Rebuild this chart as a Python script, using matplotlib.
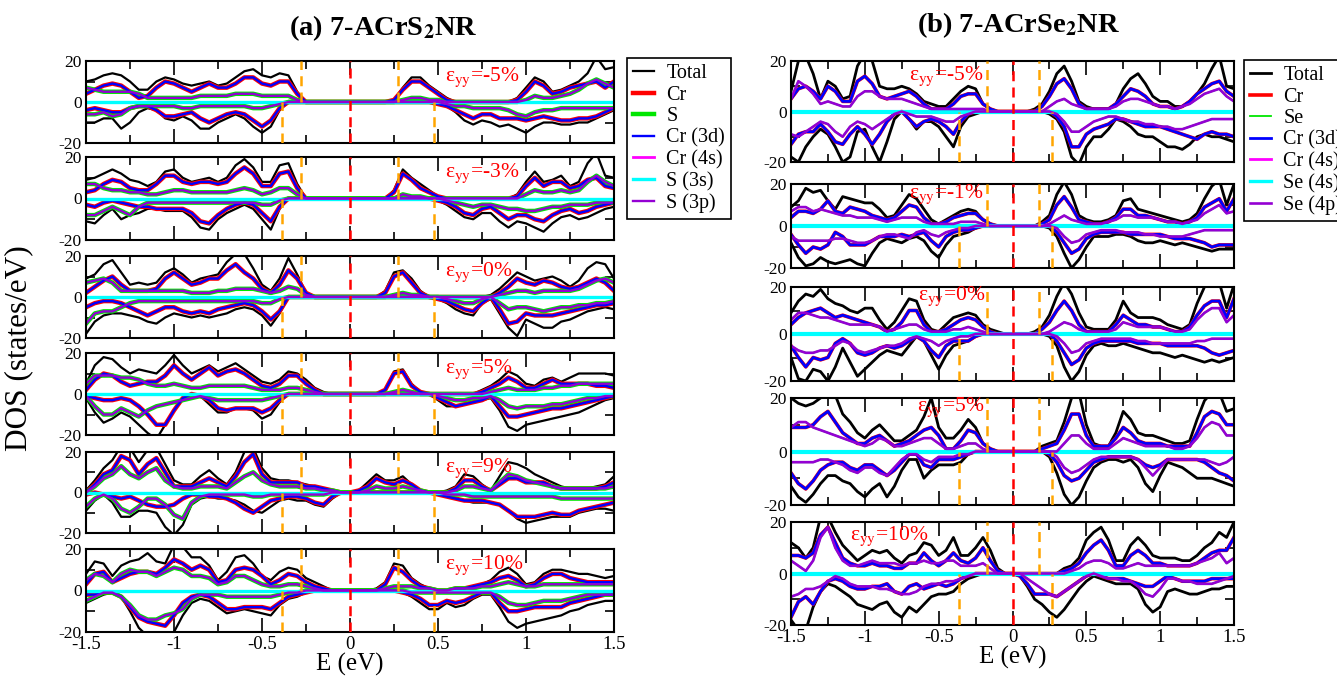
import numpy as np
import matplotlib
matplotlib.use("Agg")
import matplotlib.pyplot as plt
from matplotlib.lines import Line2D
from matplotlib.ticker import MultipleLocator, FuncFormatter

plt.rcParams['font.family'] = ['Liberation Serif', 'DejaVu Serif']
plt.rcParams['mathtext.fontset'] = 'stix'
plt.rcParams['axes.unicode_minus'] = False

W, H = 1337, 679

# energy grid (eV) the DOS was read on
energy = np.linspace(-1.5, 1.5, 61)
flat_zero = np.zeros_like(energy)   # Cr(4s) and S/Se(3s,4s) stay ~0 on this scale

# ---------------- (a) 7-ACrS2NR ----------------
a_strain = ["-5%", "-3%", "0%", "5%", "9%", "10%"]
a_edges = (-0.28, 0.27, -0.385, 0.48)   # spin-up VBM, CBM ; spin-down VBM, CBM

a_m5_tot_up = [10, 11, 13, 14, 13, 10, 6, 6, 10, 12, 11, 9, 8, 9, 10, 8, 9, 12, 15, 16,
               13, 12, 14, 13, 5, 0, 0, 0, 0, 0, 0, 0, 0, 0, 0, 1, 7, 12, 12, 8,
               5, 2, 0, 0, 0, 0, 0, 0, 0, 2, 7, 12, 10, 5, 6, 8, 10, 14, 22, 16, 17]
a_m5_tot_dn = [-10, -10, -8, -8, -13, -10, -5, -3, -4, -8, -9, -7, -9, -13, -13, -10, -8, -6, -8, -12,
               -15, -12, -4, 0, 0, 0, 0, 0, 0, 0, 0, 0, 0, 0, 0, 0, 0, 0, 0, 0,
               -1, -2, -5, -9, -11, -9, -10, -12, -11, -13, -15, -12, -10, -10, -11, -11, -10, -10, -8, -6, -4]
a_m5_cr_up = [4, 6, 8, 9, 8, 5, 2, 3, 7, 10, 9, 7, 5, 7, 9, 7, 7, 9, 12, 12,
              9, 8, 10, 10, 4, 0, 0, 0, 0, 0, 0, 0, 0, 0, 0, 1, 6, 10, 10, 7,
              4, 1, 0, 0, 0, 0, 0, 0, 0, 1, 5, 10, 8, 4, 5, 7, 8, 9, 10, 7, 10]
a_m5_cr_dn = [-4, -3, -4, -5, -5, -3, -2, -2, -4, -7, -7, -6, -5, -8, -10, -8, -6, -5, -6, -9,
              -12, -9, -3, 0, 0, 0, 0, 0, 0, 0, 0, 0, 0, 0, 0, 0, 0, 0, 0, 0,
              -1, -2, -4, -6, -8, -6, -6, -8, -8, -8, -9, -8, -7, -8, -9, -9, -8, -8, -7, -5, -3]
a_m5_s_up = [7, 6, 5, 5, 5, 5, 4, 2, 2, 2, 2, 2, 2, 3, 3, 3, 3, 4, 4, 4,
             3, 3, 3, 3, 1, 0, 0, 0, 0, 0, 0, 0, 0, 0, 0, 0, 1, 2, 2, 1,
             1, 0, 0, 0, 0, 0, 0, 0, 0, 0, 1, 3, 2, 2, 3, 4, 6, 9, 11, 9, 7]
a_m5_s_dn = [-6, -6, -5, -7, -6, -3, -2, -2, -2, -2, -2, -3, -3, -2, -2, -2, -2, -2, -2, -3,
             -3, -2, -1, 0, 0, 0, 0, 0, 0, 0, 0, 0, 0, 0, 0, 0, 0, 0, 0, 0,
             0, -1, -2, -2, -3, -3, -3, -3, -4, -6, -7, -5, -4, -4, -3, -3, -3, -3, -3, -3, -3]

a_m3_tot_up = [9, 10, 12, 14, 12, 9, 8, 6, 8, 13, 14, 10, 8, 9, 10, 8, 10, 16, 19, 15,
               8, 8, 16, 17, 7, 0, 0, 0, 0, 0, 0, 0, 0, 0, 0, 4, 14, 10, 7, 4,
               1, 0, 0, 0, 0, 0, 0, 0, 0, 2, 8, 13, 8, 9, 11, 6, 8, 17, 22, 11, 10]
a_m3_tot_dn = [-11, -12, -8, -5, -10, -8, -7, -5, -5, -6, -6, -6, -9, -14, -15, -10, -7, -5, -3, -5,
               -10, -15, -5, 0, 0, 0, 0, 0, 0, 0, 0, 0, 0, 0, 0, 0, 0, 0, 0, 0,
               -1, -3, -6, -9, -10, -7, -7, -11, -14, -11, -12, -14, -16, -12, -9, -8, -10, -9, -7, -5, -4]
a_m3_cr_up = [3, 4, 7, 9, 8, 5, 4, 4, 7, 11, 11, 8, 7, 8, 8, 7, 8, 12, 15, 12,
              6, 6, 12, 13, 5, 0, 0, 0, 0, 0, 0, 0, 0, 0, 0, 3, 12, 9, 5, 3,
              1, 0, 0, 0, 0, 0, 0, 0, 0, 1, 6, 10, 6, 8, 8, 5, 6, 9, 10, 6, 5]
a_m3_cr_dn = [-3, -4, -2, -1, -2, -3, -4, -4, -5, -5, -5, -5, -7, -11, -12, -8, -5, -3, -2, -3,
              -7, -11, -4, 0, 0, 0, 0, 0, 0, 0, 0, 0, 0, 0, 0, 0, 0, 0, 0, 0,
              -1, -2, -4, -7, -8, -5, -4, -7, -10, -8, -8, -10, -11, -8, -6, -5, -7, -6, -4, -3, -2]
a_m3_s_up = [7, 7, 5, 4, 4, 3, 3, 2, 2, 3, 4, 4, 3, 3, 3, 3, 3, 4, 5, 4,
             2, 3, 5, 5, 2, 0, 0, 0, 0, 0, 0, 0, 0, 0, 0, 0, 2, 1, 1, 0,
             0, 0, 0, 0, 0, 0, 0, 0, 0, 0, 2, 4, 3, 3, 4, 3, 4, 8, 11, 8, 6]
a_m3_s_dn = [-8, -8, -6, -4, -6, -8, -4, -2, -2, -2, -2, -2, -2, -2, -2, -2, -2, -2, -2, -2,
             -3, -3, -1, 0, 0, 0, 0, 0, 0, 0, 0, 0, 0, 0, 0, 0, 0, 0, 0, 0,
             0, -1, -2, -3, -4, -3, -3, -4, -5, -5, -6, -6, -5, -4, -4, -3, -3, -3, -2, -2, -2]

a_0_tot_up = [9, 11, 16, 18, 12, 6, 7, 6, 7, 12, 14, 11, 7, 9, 10, 11, 17, 21, 21, 14,
              6, 3, 9, 19, 11, 2, 0, 0, 0, 0, 0, 0, 0, 0, 3, 12, 13, 9, 3, 0,
              0, 0, 0, 0, 0, 0, 1, 4, 8, 12, 10, 8, 9, 10, 8, 5, 8, 14, 17, 16, 9]
a_0_tot_dn = [-18, -12, -9, -8, -8, -9, -10, -12, -13, -10, -8, -9, -10, -9, -10, -9, -8, -6, -5, -6,
              -9, -14, -8, 0, 0, 0, 0, 0, 0, 0, 0, 0, 0, 0, 0, 0, 0, 0, 0, 0,
              -1, -3, -6, -8, -9, -3, -1, -8, -15, -19, -11, -13, -15, -15, -12, -11, -9, -7, -6, -5, -6]
a_0_cr_up = [2, 5, 8, 10, 6, 3, 3, 3, 4, 9, 12, 9, 6, 7, 9, 9, 13, 16, 12, 9,
             4, 2, 6, 13, 9, 2, 0, 0, 0, 0, 0, 0, 0, 0, 2, 10, 12, 7, 2, 0,
             0, 0, 0, 0, 0, 0, 0, 2, 5, 9, 7, 6, 8, 7, 5, 4, 5, 7, 9, 7, 3]
a_0_cr_dn = [-5, -3, -2, -2, -3, -5, -7, -9, -7, -5, -5, -7, -8, -7, -8, -6, -5, -4, -3, -4,
             -7, -11, -7, 0, 0, 0, 0, 0, 0, 0, 0, 0, 0, 0, 0, 0, 0, 0, 0, 0,
             -1, -2, -4, -6, -7, -3, 0, -6, -13, -12, -8, -9, -9, -9, -8, -7, -6, -5, -4, -4, -3]
a_0_s_up = [7, 8, 9, 7, 3, 3, 3, 3, 3, 3, 3, 3, 2, 2, 2, 3, 3, 4, 4, 4,
            3, 2, 3, 5, 4, 1, 0, 0, 0, 0, 0, 0, 0, 0, 0, 1, 2, 1, 1, 0,
            0, 0, 0, 0, 0, 0, 0, 1, 2, 3, 3, 2, 3, 3, 3, 3, 4, 6, 8, 9, 7]
a_0_s_dn = [-13, -8, -7, -7, -5, -3, -2, -2, -2, -2, -2, -2, -2, -2, -2, -2, -2, -2, -2, -2,
            -3, -3, -1, 0, 0, 0, 0, 0, 0, 0, 0, 0, 0, 0, 0, 0, 0, 0, 0, 0,
            0, -1, -2, -3, -3, -1, 0, -3, -6, -5, -5, -6, -7, -6, -5, -5, -4, -4, -3, -3, -2]

a_5_tot_up = [5, 14, 18, 17, 13, 10, 12, 11, 10, 14, 19, 14, 10, 12, 14, 11, 13, 15, 12, 9,
              6, 5, 7, 11, 10, 7, 3, 1, 0, 0, 0, 0, 0, 0, 2, 11, 12, 5, 1, 0,
              0, 0, 0, 0, 0, 2, 4, 7, 11, 9, 5, 4, 7, 8, 6, 8, 10, 10, 10, 10, 9]
a_5_tot_dn = [-2, -9, -14, -12, -9, -11, -15, -19, -22, -15, -8, -2, 0, -1, -5, -9, -9, -7, -7, -8,
              -12, -10, -4, 0, 0, 0, 0, 0, 0, 0, 0, 0, 0, 0, 0, 0, 0, 0, 0, 0,
              -3, -6, -6, -5, -4, -3, -2, -8, -16, -18, -15, -14, -13, -12, -11, -10, -9, -7, -5, -3, -2]
a_5_cr_up = [2, 7, 10, 9, 6, 4, 5, 6, 6, 9, 14, 10, 7, 10, 13, 9, 11, 12, 10, 7,
             4, 3, 5, 9, 9, 5, 2, 0, 0, 0, 0, 0, 0, 0, 2, 10, 11, 4, 1, 0,
             0, 0, 0, 0, 0, 1, 3, 5, 8, 6, 3, 3, 5, 7, 5, 5, 5, 5, 4, 4, 3]
a_5_cr_dn = [-1, -2, -3, -3, -2, -3, -6, -10, -15, -15, -8, -2, 0, -1, -3, -7, -8, -7, -7, -7,
             -9, -7, -3, 0, 0, 0, 0, 0, 0, 0, 0, 0, 0, 0, 0, 0, 0, 0, 0, 0,
             -2, -4, -6, -5, -4, -3, -1, -6, -11, -11, -10, -9, -8, -7, -7, -6, -5, -4, -3, -2, -1]
a_5_s_up = [5, 9, 9, 9, 8, 8, 7, 5, 4, 4, 5, 4, 3, 3, 4, 4, 4, 4, 4, 3,
            2, 2, 2, 3, 3, 2, 1, 0, 0, 0, 0, 0, 0, 0, 0, 1, 2, 1, 0, 0,
            0, 0, 0, 0, 0, 0, 1, 2, 3, 2, 2, 2, 3, 3, 4, 4, 5, 5, 5, 5, 5]
a_5_s_dn = [-1, -6, -10, -10, -7, -9, -11, -8, -6, -5, -4, -3, -2, -1, -2, -3, -3, -3, -3, -3,
            -3, -2, -1, 0, 0, 0, 0, 0, 0, 0, 0, 0, 0, 0, 0, 0, 0, 0, 0, 0,
            -1, -2, -3, -3, -2, -2, -1, -3, -6, -7, -6, -6, -6, -5, -5, -4, -3, -2, -2, -1, -1]

a_9_tot_up = [1, 6, 12, 16, 23, 22, 15, 21, 22, 14, 6, 4, 4, 8, 11, 7, 4, 10, 20, 22,
              12, 7, 6, 6, 5, 4, 3, 2, 1, 0, 0, 1, 5, 9, 6, 6, 8, 4, 1, 0,
              0, 1, 3, 9, 8, 4, 1, 8, 15, 14, 12, 9, 7, 5, 3, 2, 2, 2, 3, 4, 8]
a_9_tot_dn = [-9, -4, -1, -5, -12, -12, -9, -9, -10, -17, -21, -16, -6, -3, -2, -3, -3, -4, -6, -9,
              -10, -7, -4, -3, -4, -4, -6, -7, -3, 0, 0, 0, 0, 0, 0, 0, 0, 0, 0, 0,
              -1, -2, -3, -4, -5, -5, -5, -6, -9, -13, -15, -14, -13, -12, -12, -12, -10, -9, -8, -8, -9]
a_9_cr_up = [0, 4, 9, 11, 18, 16, 9, 14, 17, 10, 3, 3, 3, 5, 7, 5, 3, 8, 15, 19,
             9, 5, 5, 5, 5, 3, 3, 2, 1, 0, 0, 1, 3, 7, 5, 4, 6, 4, 1, 0,
             0, 0, 2, 6, 6, 3, 1, 4, 7, 7, 5, 5, 5, 3, 2, 2, 2, 2, 2, 3, 5]
a_9_cr_dn = [-1, 0, -1, -2, -3, -2, -4, -6, -7, -7, -6, -3, -1, -1, -2, -2, -3, -5, -8, -10,
             -7, -4, -3, -2, -2, -3, -5, -6, -2, 0, 0, 0, 0, 0, 0, 0, 0, 0, 0, 0,
             -1, -2, -3, -4, -4, -4, -5, -6, -9, -12, -12, -12, -11, -10, -11, -11, -9, -8, -7, -6, -5]
a_9_s_up = [0, 3, 7, 9, 13, 9, 7, 10, 12, 6, 3, 2, 2, 3, 3, 3, 2, 5, 8, 10,
            6, 4, 3, 3, 3, 2, 2, 1, 1, 0, 0, 0, 1, 3, 2, 2, 3, 2, 1, 0,
            0, 0, 1, 3, 3, 2, 1, 5, 9, 8, 6, 5, 4, 3, 2, 2, 2, 2, 2, 2, 3]
a_9_s_dn = [-7, -3, -1, -3, -8, -10, -7, -3, -3, -6, -11, -13, -5, -2, -1, -1, -1, -1, -1, -2,
            -2, -1, -1, -1, -1, -1, -1, -1, 0, 0, 0, 0, 0, 0, 0, 0, 0, 0, 0, 0,
            0, -1, -1, -1, -2, -2, -2, -2, -2, -2, -2, -2, -2, -2, -3, -3, -3, -3, -3, -3, -3]

a_10_tot_up = [8, 14, 13, 7, 12, 14, 15, 18, 14, 13, 22, 21, 16, 16, 12, 5, 9, 16, 17, 13,
               7, 5, 9, 11, 10, 6, 4, 2, 0, 0, 0, 0, 0, 1, 4, 13, 12, 6, 3, 1,
               0, 0, 0, 1, 2, 3, 5, 9, 11, 8, 3, 4, 8, 10, 10, 9, 8, 8, 7, 6, 7]
a_10_tot_dn = [-6, -4, -2, -1, -3, -10, -18, -22, -22, -22, -20, -12, -6, -4, -5, -8, -11, -10, -9, -10,
               -11, -12, -7, -4, -3, -1, 0, 0, 0, 0, 0, 0, 0, 0, 0, 0, -1, -3, -6, -9,
               -9, -6, -8, -7, -4, -2, -2, -8, -15, -18, -16, -15, -14, -13, -12, -10, -9, -7, -6, -5, -5]
a_10_cr_up = [3, 8, 9, 4, 6, 8, 9, 9, 8, 11, 15, 13, 10, 12, 10, 4, 5, 10, 11, 10,
              7, 3, 5, 8, 7, 4, 2, 1, 0, 0, 0, 0, 0, 0, 3, 11, 9, 5, 2, 1,
              0, 0, 1, 1, 2, 3, 4, 6, 7, 5, 2, 3, 6, 8, 8, 6, 5, 4, 4, 4, 4]
a_10_cr_dn = [-2, -2, -1, -1, -3, -8, -13, -15, -16, -17, -12, -6, -3, -2, -3, -6, -9, -9, -8, -8,
              -8, -9, -6, -3, -2, -1, 0, 0, 0, 0, 0, 0, 0, 0, 0, 0, -1, -2, -4, -7,
              -7, -5, -6, -5, -3, -1, -1, -6, -10, -10, -9, -8, -8, -8, -8, -6, -5, -4, -3, -2, -2]
a_10_s_up = [5, 8, 7, 4, 8, 10, 9, 9, 7, 9, 11, 10, 7, 7, 6, 3, 4, 7, 7, 5,
             3, 2, 2, 3, 3, 2, 1, 0, 0, 0, 0, 0, 0, 0, 1, 2, 2, 2, 1, 1,
             0, 0, 1, 1, 1, 2, 2, 3, 4, 3, 2, 2, 3, 3, 3, 3, 3, 3, 3, 3, 3]
a_10_s_dn = [-5, -3, -1, -1, -3, -7, -12, -14, -14, -12, -11, -9, -4, -2, -2, -2, -3, -3, -3, -3,
             -3, -3, -2, -1, -1, 0, 0, 0, 0, 0, 0, 0, 0, 0, 0, 0, 0, -1, -1, -1,
             -1, -1, -1, -1, -1, -1, -1, -3, -6, -7, -7, -6, -5, -5, -5, -4, -3, -2, -2, -2, -2]

# ---------------- (b) 7-ACrSe2NR ----------------
b_strain = ["-5%", "-1%", "0%", "5%", "10%"]
b_edges = (-0.175, 0.18, -0.36, 0.265)

b_m5_tot_up = [8, 20, 22, 15, 5, 12, 10, 5, 6, 18, 23, 20, 10, 9, 9, 10, 9, 7, 4, 3,
               2, 2, 5, 8, 10, 9, 3, 1, 0, 0, 0, 0, 0, 1, 3, 8, 15, 18, 12, 4,
               2, 1, 1, 1, 3, 9, 13, 15, 11, 6, 4, 4, 2, 2, 4, 7, 11, 17, 22, 10, 9]
b_m5_tot_dn = [-18, -20, -14, -10, -7, -9, -14, -20, -18, -8, -7, -14, -20, -12, -3, 0, -3, -7, -4, -4,
               -6, -10, -14, -6, -2, -1, 0, 0, 0, 0, 0, 0, 0, 0, 0, -1, -3, -8, -18, -21,
               -14, -10, -10, -7, -3, -4, -6, -9, -10, -10, -12, -14, -14, -15, -13, -10, -9, -10, -10, -11, -12]
b_m5_cr_up = [5, 9, 10, 8, 5, 10, 8, 4, 4, 12, 14, 11, 6, 5, 6, 7, 8, 6, 3, 1,
              1, 1, 3, 6, 7, 7, 3, 1, 0, 0, 0, 0, 0, 0, 2, 6, 11, 13, 9, 3,
              1, 1, 1, 1, 3, 6, 9, 8, 6, 3, 2, 2, 1, 2, 4, 7, 9, 11, 12, 8, 6]
b_m5_cr_dn = [-13, -9, -8, -8, -5, -8, -12, -13, -9, -6, -9, -13, -9, -4, -1, 0, -3, -6, -4, -3,
              -4, -6, -9, -4, -1, 0, 0, 0, 0, 0, 0, 0, 0, 0, 0, 0, -2, -6, -14, -14,
              -9, -7, -6, -5, -3, -3, -4, -5, -6, -6, -6, -7, -8, -9, -10, -11, -9, -8, -9, -9, -10]
b_m5_s_up = [5, 12, 10, 7, 3, 4, 3, 2, 2, 6, 8, 8, 6, 5, 5, 5, 4, 3, 2, 1,
             1, 1, 1, 1, 1, 1, 1, 0, 0, 0, 0, 0, 0, 0, 0, 2, 4, 5, 3, 2,
             1, 1, 1, 1, 2, 4, 5, 5, 4, 3, 2, 2, 1, 2, 3, 5, 7, 8, 9, 6, 4]
b_m5_s_dn = [-9, -10, -8, -6, -4, -5, -8, -10, -6, -4, -5, -7, -5, -3, -1, 0, -1, -2, -2, -2,
             -3, -4, -4, -2, -1, 0, 0, 0, 0, 0, 0, 0, 0, 0, 0, 0, -1, -4, -8, -8,
             -6, -4, -3, -2, -2, -3, -4, -4, -5, -5, -6, -6, -7, -7, -6, -5, -4, -3, -3, -3, -3]

b_m1_tot_up = [9, 12, 18, 16, 17, 12, 8, 14, 13, 12, 11, 11, 8, 4, 5, 10, 15, 13, 8, 3,
               1, 3, 5, 7, 8, 7, 3, 1, 0, 0, 0, 0, 0, 0, 2, 5, 15, 21, 15, 5,
               3, 2, 2, 3, 5, 12, 13, 8, 7, 6, 5, 4, 3, 2, 3, 6, 13, 19, 22, 10, 20]
b_m1_tot_dn = [-8, -15, -19, -18, -15, -17, -18, -17, -16, -18, -19, -13, -8, -6, -7, -8, -6, -5, -7, -12,
               -15, -9, -5, -4, -3, -1, 0, 0, 0, 0, 0, 0, 0, 0, 0, -1, -5, -13, -20, -16,
               -10, -5, -5, -5, -4, -4, -5, -7, -8, -8, -7, -8, -9, -8, -9, -10, -11, -12, -11, -11, -11]
b_m1_cr_up = [4, 7, 7, 6, 8, 12, 7, 6, 9, 8, 7, 5, 4, 3, 4, 7, 10, 9, 4, 1,
              1, 2, 4, 5, 6, 6, 3, 1, 0, 0, 0, 0, 0, 0, 1, 3, 10, 14, 9, 3,
              2, 1, 1, 2, 4, 8, 8, 5, 5, 4, 3, 2, 2, 1, 2, 4, 9, 11, 13, 7, 13]
b_m1_cr_dn = [-4, -9, -13, -10, -11, -9, -3, -5, -9, -9, -9, -7, -5, -5, -5, -4, -5, -4, -3, -7,
              -10, -5, -3, -2, -2, -1, 0, 0, 0, 0, 0, 0, 0, 0, 0, 0, -3, -8, -13, -11,
              -6, -4, -3, -3, -3, -3, -4, -4, -4, -4, -4, -5, -6, -6, -6, -7, -8, -10, -9, -9, -9]
b_m1_s_up = [7, 9, 9, 7, 8, 7, 6, 5, 5, 4, 4, 4, 3, 2, 3, 4, 4, 4, 2, 1,
             1, 1, 1, 2, 2, 2, 1, 0, 0, 0, 0, 0, 0, 0, 0, 1, 3, 5, 3, 2,
             1, 1, 1, 2, 3, 5, 5, 4, 4, 4, 3, 2, 2, 1, 2, 3, 6, 8, 10, 6, 7]
b_m1_s_dn = [-5, -7, -7, -7, -7, -7, -6, -6, -7, -8, -8, -7, -5, -4, -4, -5, -6, -3, -2, -4,
             -5, -3, -2, -1, -1, 0, 0, 0, 0, 0, 0, 0, 0, 0, 0, 0, -1, -5, -8, -7,
             -4, -3, -2, -2, -2, -3, -3, -3, -4, -4, -5, -5, -5, -5, -4, -3, -2, -2, -2, -2, -2]

b_0_tot_up = [9, 14, 17, 16, 19, 15, 13, 12, 10, 9, 11, 11, 6, 2, 5, 10, 15, 14, 6, 2,
              1, 4, 7, 8, 9, 8, 4, 2, 1, 0, 0, 0, 0, 1, 3, 8, 16, 22, 17, 9,
              3, 2, 2, 2, 6, 14, 9, 7, 7, 7, 6, 4, 3, 2, 4, 13, 20, 22, 22, 11, 21]
b_0_tot_dn = [-10, -19, -20, -15, -16, -20, -14, -6, -12, -18, -15, -12, -9, -7, -8, -9, -5, -1, -3, -9,
              -15, -9, -5, -4, -3, -1, 0, 0, 0, 0, 0, 0, 0, 0, 0, -1, -5, -14, -20, -16,
              -9, -5, -4, -5, -5, -4, -5, -6, -7, -8, -8, -9, -10, -9, -10, -11, -12, -11, -12, -11, -10]
b_0_cr_up = [4, 7, 9, 10, 11, 9, 7, 8, 7, 6, 5, 4, 3, 1, 2, 5, 10, 10, 4, 1,
             1, 2, 4, 6, 7, 6, 3, 1, 0, 0, 0, 0, 0, 0, 2, 5, 10, 14, 10, 4,
             1, 1, 1, 1, 4, 8, 6, 4, 4, 3, 3, 2, 1, 1, 3, 8, 12, 14, 14, 7, 15]
b_0_cr_dn = [-5, -10, -14, -10, -11, -10, -4, -2, -4, -8, -9, -8, -6, -5, -6, -5, -3, -1, -3, -7,
             -10, -5, -3, -3, -3, -1, 0, 0, 0, 0, 0, 0, 0, 0, 0, 0, -3, -8, -13, -11,
             -6, -4, -3, -3, -3, -3, -3, -4, -4, -4, -4, -5, -5, -5, -5, -5, -6, -8, -9, -8, -7]
b_0_s_up = [6, 9, 9, 8, 7, 7, 6, 5, 4, 4, 4, 4, 3, 1, 2, 3, 4, 4, 2, 1,
            1, 1, 2, 2, 3, 2, 1, 0, 0, 0, 0, 0, 0, 0, 0, 1, 3, 5, 4, 2,
            1, 1, 1, 1, 2, 5, 4, 3, 3, 3, 3, 2, 1, 1, 2, 6, 9, 11, 11, 5, 8]
b_0_s_dn = [-5, -7, -8, -8, -7, -7, -5, -3, -4, -7, -8, -7, -6, -5, -5, -4, -2, -1, -2, -3,
            -5, -3, -2, -1, -1, 0, 0, 0, 0, 0, 0, 0, 0, 0, 0, 0, -1, -4, -8, -7,
            -4, -3, -2, -2, -2, -2, -2, -3, -3, -4, -4, -4, -4, -4, -4, -3, -3, -2, -2, -2, -2]

b_5_tot_up = [20, 18, 17, 18, 20, 22, 21, 14, 11, 7, 5, 8, 10, 7, 4, 4, 6, 8, 13, 20,
              9, 5, 5, 8, 12, 9, 3, 1, 0, 0, 0, 0, 0, 0, 2, 3, 4, 11, 20, 22,
              10, 3, 2, 2, 7, 15, 12, 7, 6, 6, 5, 4, 3, 3, 4, 12, 19, 22, 22, 15, 16]
b_5_tot_dn = [-13, -17, -19, -16, -12, -9, -9, -11, -12, -15, -17, -14, -12, -17, -13, -7, -3, -3, -10, -7,
              -5, -5, -5, -4, -1, 0, 0, 0, 0, 0, 0, 0, 0, 0, 0, -2, -8, -16, -20, -17,
              -11, -6, -4, -3, -3, -4, -3, -6, -12, -15, -9, -4, -5, -6, -8, -10, -10, -10, -11, -12, -13]
b_5_cr_up = [9, 9, 9, 10, 13, 15, 11, 7, 5, 3, 3, 5, 6, 4, 2, 3, 4, 6, 8, 9,
             6, 1, 1, 4, 8, 7, 3, 1, 0, 0, 0, 0, 0, 0, 1, 2, 3, 8, 14, 14,
             6, 2, 2, 2, 5, 9, 7, 4, 3, 3, 3, 2, 2, 2, 2, 7, 13, 15, 14, 10, 10]
b_5_cr_dn = [-8, -12, -14, -11, -7, -5, -4, -4, -6, -7, -5, -5, -7, -9, -7, -4, -1, -1, -5, -6,
             -3, -3, -3, -2, -1, 0, 0, 0, 0, 0, 0, 0, 0, 0, 0, -1, -4, -9, -11, -10,
             -7, -4, -3, -2, -2, -2, -2, -3, -5, -6, -5, -3, -3, -3, -3, -3, -4, -6, -8, -9, -11]
b_5_s_up = [9, 11, 11, 9, 8, 7, 6, 5, 4, 3, 2, 3, 5, 4, 2, 2, 3, 4, 5, 5,
            3, 1, 1, 2, 3, 3, 1, 0, 0, 0, 0, 0, 0, 0, 0, 0, 0, 3, 6, 6,
            3, 1, 1, 1, 3, 5, 4, 3, 2, 2, 2, 2, 1, 1, 2, 5, 9, 11, 10, 6, 6]
b_5_s_dn = [-4, -4, -4, -4, -3, -3, -4, -5, -7, -8, -6, -6, -8, -9, -6, -3, -1, -1, -3, -4,
            -2, -2, -2, -1, -1, 0, 0, 0, 0, 0, 0, 0, 0, 0, 0, 0, -2, -6, -8, -7,
            -5, -3, -2, -2, -2, -2, -2, -3, -6, -9, -6, -3, -3, -3, -3, -3, -3, -4, -5, -4, -2]

b_10_tot_up = [12, 10, 6, 10, 22, 22, 16, 11, 8, 5, 7, 9, 8, 9, 6, 4, 7, 8, 12, 11,
               7, 9, 14, 7, 7, 10, 14, 9, 2, 0, 0, 0, 0, 0, 0, 0, 0, 2, 3, 6,
               13, 16, 18, 13, 5, 5, 11, 14, 11, 7, 6, 6, 6, 5, 5, 7, 10, 12, 16, 14, 20]
b_10_tot_dn = [-18, -22, -22, -13, -7, -4, -5, -7, -9, -12, -13, -14, -12, -11, -15, -17, -13, -15, -12, -9,
               -8, -8, -7, -4, -2, -1, 0, 0, 0, 0, 0, -1, -5, -10, -12, -15, -17, -14, -10, -6,
               -3, -1, -2, -3, -4, -4, -4, -6, -12, -15, -13, -7, -6, -7, -8, -8, -7, -6, -6, -5, -5]
b_10_cr_up = [7, 7, 6, 8, 15, 18, 12, 6, 4, 3, 3, 4, 3, 3, 2, 2, 4, 4, 8, 5,
              3, 5, 8, 5, 4, 6, 10, 5, 1, 0, 0, 0, 0, 0, 0, 0, 0, 1, 2, 4,
              8, 11, 13, 9, 3, 3, 7, 9, 7, 4, 4, 3, 3, 3, 3, 4, 6, 8, 9, 9, 14]
b_10_cr_dn = [-17, -11, -9, -12, -7, -3, -2, -3, -5, -6, -6, -5, -5, -4, -7, -8, -5, -4, -6, -5,
              -4, -5, -4, -2, -1, 0, 0, 0, 0, 0, 0, -1, -4, -8, -8, -8, -9, -7, -5, -3,
              -1, 0, -1, -2, -2, -2, -3, -4, -5, -5, -3, -1, -2, -3, -3, -3, -3, -2, -2, -2, -2]
b_10_s_up = [5, 3, 1, 5, 14, 18, 10, 5, 3, 3, 4, 5, 4, 4, 4, 3, 4, 4, 5, 4,
             4, 5, 5, 3, 3, 3, 4, 2, 0, 0, 0, 0, 0, 0, 0, 0, 0, 0, 1, 2,
             4, 5, 5, 4, 2, 2, 3, 4, 3, 3, 3, 3, 3, 3, 3, 4, 5, 6, 8, 4, 6]
b_10_s_dn = [-9, -8, -6, -6, -5, -3, -1, -2, -4, -5, -5, -5, -6, -6, -7, -8, -8, -7, -5, -4,
             -4, -3, -3, -2, -1, 0, 0, 0, 0, 0, 0, 0, -2, -4, -6, -8, -9, -7, -5, -3,
             -1, 0, -1, -2, -2, -3, -3, -5, -8, -9, -6, -2, -2, -3, -3, -4, -4, -4, -3, -2, -1]

panel_a = [
    (a_m5_tot_up, a_m5_tot_dn, a_m5_cr_up, a_m5_cr_dn, a_m5_s_up, a_m5_s_dn),
    (a_m3_tot_up, a_m3_tot_dn, a_m3_cr_up, a_m3_cr_dn, a_m3_s_up, a_m3_s_dn),
    (a_0_tot_up, a_0_tot_dn, a_0_cr_up, a_0_cr_dn, a_0_s_up, a_0_s_dn),
    (a_5_tot_up, a_5_tot_dn, a_5_cr_up, a_5_cr_dn, a_5_s_up, a_5_s_dn),
    (a_9_tot_up, a_9_tot_dn, a_9_cr_up, a_9_cr_dn, a_9_s_up, a_9_s_dn),
    (a_10_tot_up, a_10_tot_dn, a_10_cr_up, a_10_cr_dn, a_10_s_up, a_10_s_dn),
]
panel_b = [
    (b_m5_tot_up, b_m5_tot_dn, b_m5_cr_up, b_m5_cr_dn, b_m5_s_up, b_m5_s_dn),
    (b_m1_tot_up, b_m1_tot_dn, b_m1_cr_up, b_m1_cr_dn, b_m1_s_up, b_m1_s_dn),
    (b_0_tot_up, b_0_tot_dn, b_0_cr_up, b_0_cr_dn, b_0_s_up, b_0_s_dn),
    (b_5_tot_up, b_5_tot_dn, b_5_cr_up, b_5_cr_dn, b_5_s_up, b_5_s_dn),
    (b_10_tot_up, b_10_tot_dn, b_10_cr_up, b_10_cr_dn, b_10_s_up, b_10_s_dn),
]

# layout (pixel rows of each frame, label spots)
a_rows = [(61, 143), (157, 240), (256, 338), (353, 435), (452, 533), (549, 632)]
b_rows = [(61, 162), (184, 268), (287, 381), (398, 505), (522, 625)]
a_cols = (86, 614)
b_cols = (791, 1234)
a_label_xy = [(0.54, 12)] * 6
b_label_xy = [(-0.70, 14), (-0.70, 15), (-0.64, 16), (-0.65, 16.5), (-1.10, 14.5)]

GREEN = '#00e600'
VIOLET = '#9400d3'
ORANGE = '#ffa500'

lw_a = dict(tot=1.6, cr=3.2, s=3.2, d=1.7, s4=1.4, s3=2.4, p=1.7)
lw_b = dict(tot=2.0, cr=2.6, s=1.3, d=2.0, s4=1.4, s3=3.0, p=1.9)


def frame(cols, rows):
    l, r = cols
    t, b = rows
    return [l / W, 1 - b / H, (r - l) / W, (b - t) / H]


def draw_dos(ax, series, lw):
    tot_up, tot_dn, cr_up, cr_dn, s_up, s_dn = [np.asarray(v, float) for v in series]
    for y in (tot_up, tot_dn):
        ax.plot(energy, y, color='black', lw=lw['tot'])
    for y in (cr_up, cr_dn):
        ax.plot(energy, y, color='red', lw=lw['cr'])
    for y in (s_up, s_dn):
        ax.plot(energy, y, color=GREEN, lw=lw['s'])
    # d states carry almost all of the Cr weight, p states almost all of the chalcogen weight
    for y in (cr_up, cr_dn):
        ax.plot(energy, y, color='blue', lw=lw['d'])
    ax.plot(energy, flat_zero, color='magenta', lw=lw['s4'])
    ax.plot(energy, flat_zero, color='cyan', lw=lw['s3'])
    for y in (s_up, s_dn):
        ax.plot(energy, y, color=VIOLET, lw=lw['p'])


def style(ax, bottom):
    ax.set_xlim(-1.5, 1.5)
    ax.set_ylim(-20, 20)
    ax.xaxis.set_major_locator(MultipleLocator(0.5))
    ax.xaxis.set_minor_locator(MultipleLocator(0.25))
    ax.set_yticks([-20, 0, 20])
    ax.yaxis.set_minor_locator(MultipleLocator(10))
    ax.xaxis.set_major_formatter(FuncFormatter(lambda v, p: f"{v:g}"))
    ax.tick_params(which='both', direction='in', top=True, right=True, width=1.2)
    ax.tick_params(axis='y', labelsize=12.5, pad=3)
    ax.tick_params(axis='x', labelsize=13.5, pad=3)
    ax.tick_params(axis='x', which='major', length=10)
    ax.tick_params(axis='x', which='minor', length=5.5)
    ax.tick_params(axis='y', which='major', length=10)
    ax.tick_params(axis='y', which='minor', length=6.5)
    ax.tick_params(axis='x', labelbottom=bottom)
    for s in ax.spines.values():
        s.set_linewidth(1.5)


def edges(ax, e):
    up_v, up_c, dn_v, dn_c = e
    for x in (up_v, up_c):
        ax.axvline(x, ymin=0.5, ymax=1.0, color=ORANGE, lw=1.8, ls=(0, (4, 2.5)), zorder=3)
    for x in (dn_v, dn_c):
        ax.axvline(x, ymin=0.0, ymax=0.5, color=ORANGE, lw=1.8, ls=(0, (4, 2.5)), zorder=3)
    ax.axvline(0.0, color='red', lw=1.8, ls=(0, (4, 2.5)), zorder=3)


fig = plt.figure(figsize=(W / 100, H / 100), dpi=100)

for panel, rows, cols, strains, e, lxy, lw in (
        (panel_a, a_rows, a_cols, a_strain, a_edges, a_label_xy, lw_a),
        (panel_b, b_rows, b_cols, b_strain, b_edges, b_label_xy, lw_b)):
    n = len(panel)
    for k, series in enumerate(panel):
        ax = fig.add_axes(frame(cols, rows[k]))
        draw_dos(ax, series, lw)
        edges(ax, e)
        style(ax, k == n - 1)
        ax.text(lxy[k][0], lxy[k][1], r'ε$_{\rm yy}$=' + strains[k], color='red',
                fontsize=15.5, va='center', ha='left', zorder=4)
        if k == n - 1:
            ax.set_xlabel('E (eV)', fontsize=18, labelpad=0)

fig.text(383 / W, 1 - 28 / H, r'(a) 7-ACrS$_\mathbf{2}$NR', ha='center', va='center',
         fontsize=20.5, fontweight='bold')
fig.text(1018 / W, 1 - 25 / H, r'(b) 7-ACrSe$_\mathbf{2}$NR', ha='center', va='center',
         fontsize=20.5, fontweight='bold')
fig.text(19 / W, 1 - 348 / H, 'DOS (states/eV)', rotation=90, ha='center', va='center',
         fontsize=22.5)


def legend(x_px, y_px, names, lw):
    handles = [Line2D([], [], color='black', lw=lw['tot']),
               Line2D([], [], color='red', lw=lw['cr']),
               Line2D([], [], color=GREEN, lw=lw['s']),
               Line2D([], [], color='blue', lw=lw['d']),
               Line2D([], [], color='magenta', lw=2.0),
               Line2D([], [], color='cyan', lw=2.4),
               Line2D([], [], color=VIOLET, lw=lw['p'])]
    leg = fig.legend(handles, names, loc='upper left', bbox_to_anchor=(x_px / W, 1 - y_px / H),
                     frameon=True, fancybox=False, edgecolor='black', framealpha=1,
                     fontsize=14.5, handlelength=1.05, handletextpad=0.6, labelspacing=0.12,
                     borderpad=0.3, borderaxespad=0)
    leg.get_frame().set_linewidth(1.2)


legend(627, 58, ["Total", "Cr", "S", "Cr (3d)", "Cr (4s)", "S (3s)", "S (3p)"], lw_a)
legend(1244, 60, ["Total", "Cr", "Se", "Cr (3d)", "Cr (4s)", "Se (4s)", "Se (4p)"], lw_b)

fig.savefig('out.png', dpi=100)
